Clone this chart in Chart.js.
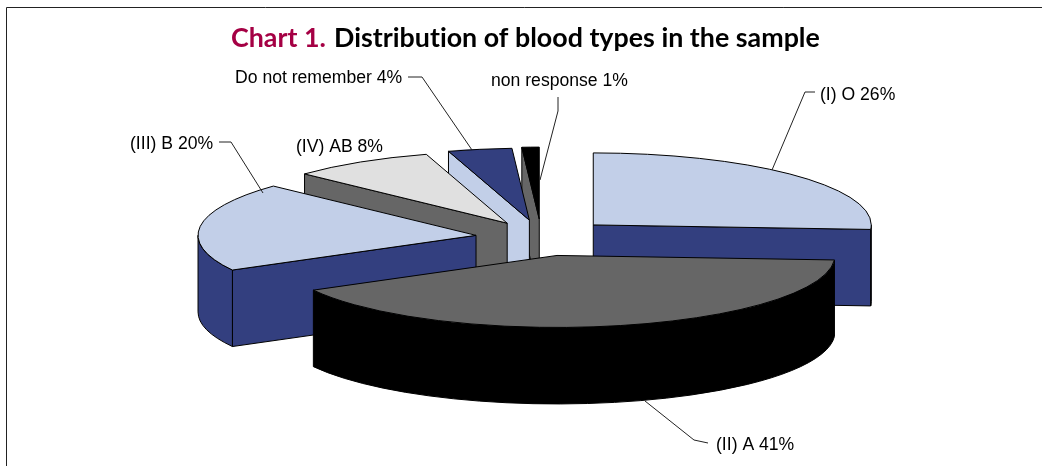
<!DOCTYPE html>
<html>
<head>
<meta charset="utf-8">
<style>html,body{margin:0;padding:0;background:#fff}canvas{display:block}</style>
<script src="https://cdn.jsdelivr.net/npm/chart.js@4/dist/chart.umd.js"></script>
</head>
<body>
<canvas id="c" width="1042" height="466"></canvas>
<script>
const categories = ['(I) O', '(II) A', '(III) B', '(IV) AB', 'Do not remember', 'non response'];
const values = [26, 41, 20, 8.3, 3.7, 1];
const topColors = ['#c2cfe8', '#666666', '#c2cfe8', '#e0e0e0', '#333f7f', '#000000'];
const sideColors = ['#333f7f', '#000000', '#333f7f', '#666666', '#c2cfe8', '#666666'];
const sliceOffsets = [71, 71, 66, 65, 68, 71];
const titleLead = 'Chart 1.';
const titleRest = 'Distribution of blood types in the sample';

const TILT = 0.259, DEPTH = 76.5;
const labelLayout = [
  {x: 820, y: 95, leader: [[772,170],[805,92],[815,92]]},
  {x: 716, y: 445, leader: [[645,401],[694,440],[708,443]]},
  {x: 130, y: 144, leader: [[263,193],[231,142],[219,142]]},
  {x: 296, y: 147, leader: null},
  {x: 235, y: 78, leader: [[472,150],[422,77],[408,77]]},
  {x: 491, y: 81, leader: [[540,180],[558,111],[558,97]]}
];

const pie3d = {
  id: 'pie3d',
  beforeDatasetDraw(chart, args) {
    const ctx = chart.ctx;
    const meta = chart.getDatasetMeta(args.index);
    const parts = meta.data.map((arc, i) => {
      const p = arc.getProps(['x','y','startAngle','endAngle','outerRadius'], true);
      const off = arc.options.offset, mid = (p.startAngle + p.endAngle) / 2;
      return {i, a0: p.startAngle, a1: p.endAngle, r: p.outerRadius,
        cx: p.x + Math.cos(mid) * off, cy: p.y + Math.sin(mid) * off * TILT};
    }).sort((a, b) => a.cy - b.cy);
    ctx.save();
    ctx.lineWidth = 1;
    ctx.strokeStyle = '#000';
    ctx.lineJoin = 'round';
    for (const s of parts) {
      const rx = s.r, ry = s.r * TILT;
      const px = a => s.cx + rx * Math.cos(a), py = a => s.cy + ry * Math.sin(a);
      ctx.fillStyle = sideColors[s.i];
      const wall = a => {
        ctx.beginPath();
        ctx.moveTo(s.cx, s.cy);
        ctx.lineTo(px(a), py(a));
        ctx.lineTo(px(a), py(a) + DEPTH);
        ctx.lineTo(s.cx, s.cy + DEPTH);
        ctx.closePath();
        ctx.fill(); ctx.stroke();
      };
      const tau = Math.PI * 2;
      // radial faces that look towards the viewer
      if (Math.cos(s.a0) < -1e-6) wall(s.a0);
      if (Math.cos(s.a1) > 1e-6) wall(s.a1);
      // curved outer face: the part of the rim on the near half
      let from = null, to = null;
      for (const k of [0, 1]) {
        const lo = Math.max(s.a0, k * tau), hi = Math.min(s.a1, Math.PI + k * tau);
        if (hi > lo) { from = lo; to = hi; }
      }
      if (from !== null) {
        ctx.beginPath();
        ctx.ellipse(s.cx, s.cy, rx, ry, 0, from, to);
        ctx.lineTo(px(to), py(to) + DEPTH);
        ctx.ellipse(s.cx, s.cy + DEPTH, rx, ry, 0, to, from, true);
        ctx.closePath();
        ctx.fill(); ctx.stroke();
      }
      // top face
      ctx.fillStyle = topColors[s.i];
      ctx.beginPath();
      ctx.moveTo(s.cx, s.cy);
      ctx.ellipse(s.cx, s.cy, rx, ry, 0, s.a0, s.a1);
      ctx.closePath();
      ctx.fill(); ctx.stroke();
    }
    ctx.restore();
    return false;
  },
  afterDraw(chart) {
    const ctx = chart.ctx;
    ctx.save();
    // frame
    ctx.strokeStyle = '#222';
    ctx.lineWidth = 1;
    ctx.beginPath();
    ctx.moveTo(6.5, 466); ctx.lineTo(6.5, 7.5); ctx.lineTo(1042, 7.5);
    ctx.stroke();
    // title
    ctx.textBaseline = 'alphabetic';
    ctx.textAlign = 'left';
    ctx.letterSpacing = '0.01px';
    ctx.font = 'bold 26.8px Lato';
    ctx.fillStyle = '#a50044';
    ctx.fillText(titleLead, 231, 47);
    ctx.fillStyle = '#000';
    ctx.fillText(titleRest, 334, 47);
    ctx.letterSpacing = '0px';
    // labels and leaders
    ctx.font = '17.6px "Liberation Sans"';
    ctx.textBaseline = 'middle';
    categories.forEach((name, i) => {
      const l = labelLayout[i];
      ctx.fillStyle = '#000';
      ctx.fillText(name + ' ' + Math.round(values[i]) + '%', l.x, l.y);
      if (l.leader) {
        ctx.beginPath();
        l.leader.forEach((p, j) => j ? ctx.lineTo(p[0], p[1]) : ctx.moveTo(p[0], p[1]));
        ctx.stroke();
      }
    });
    ctx.restore();
  }
};

new Chart(document.getElementById('c'), {
  type: 'pie',
  data: {
    labels: categories,
    datasets: [{ data: values, backgroundColor: topColors, borderColor: '#000', borderWidth: 1, offset: sliceOffsets }]
  },
  options: {
    responsive: false,
    animation: false,
    radius: 278,
    layout: { padding: { left: 41, top: 9 } },
    plugins: { legend: { display: false }, title: { display: false }, tooltip: { enabled: false } }
  },
  plugins: [pie3d]
});
</script>
</body>
</html>
